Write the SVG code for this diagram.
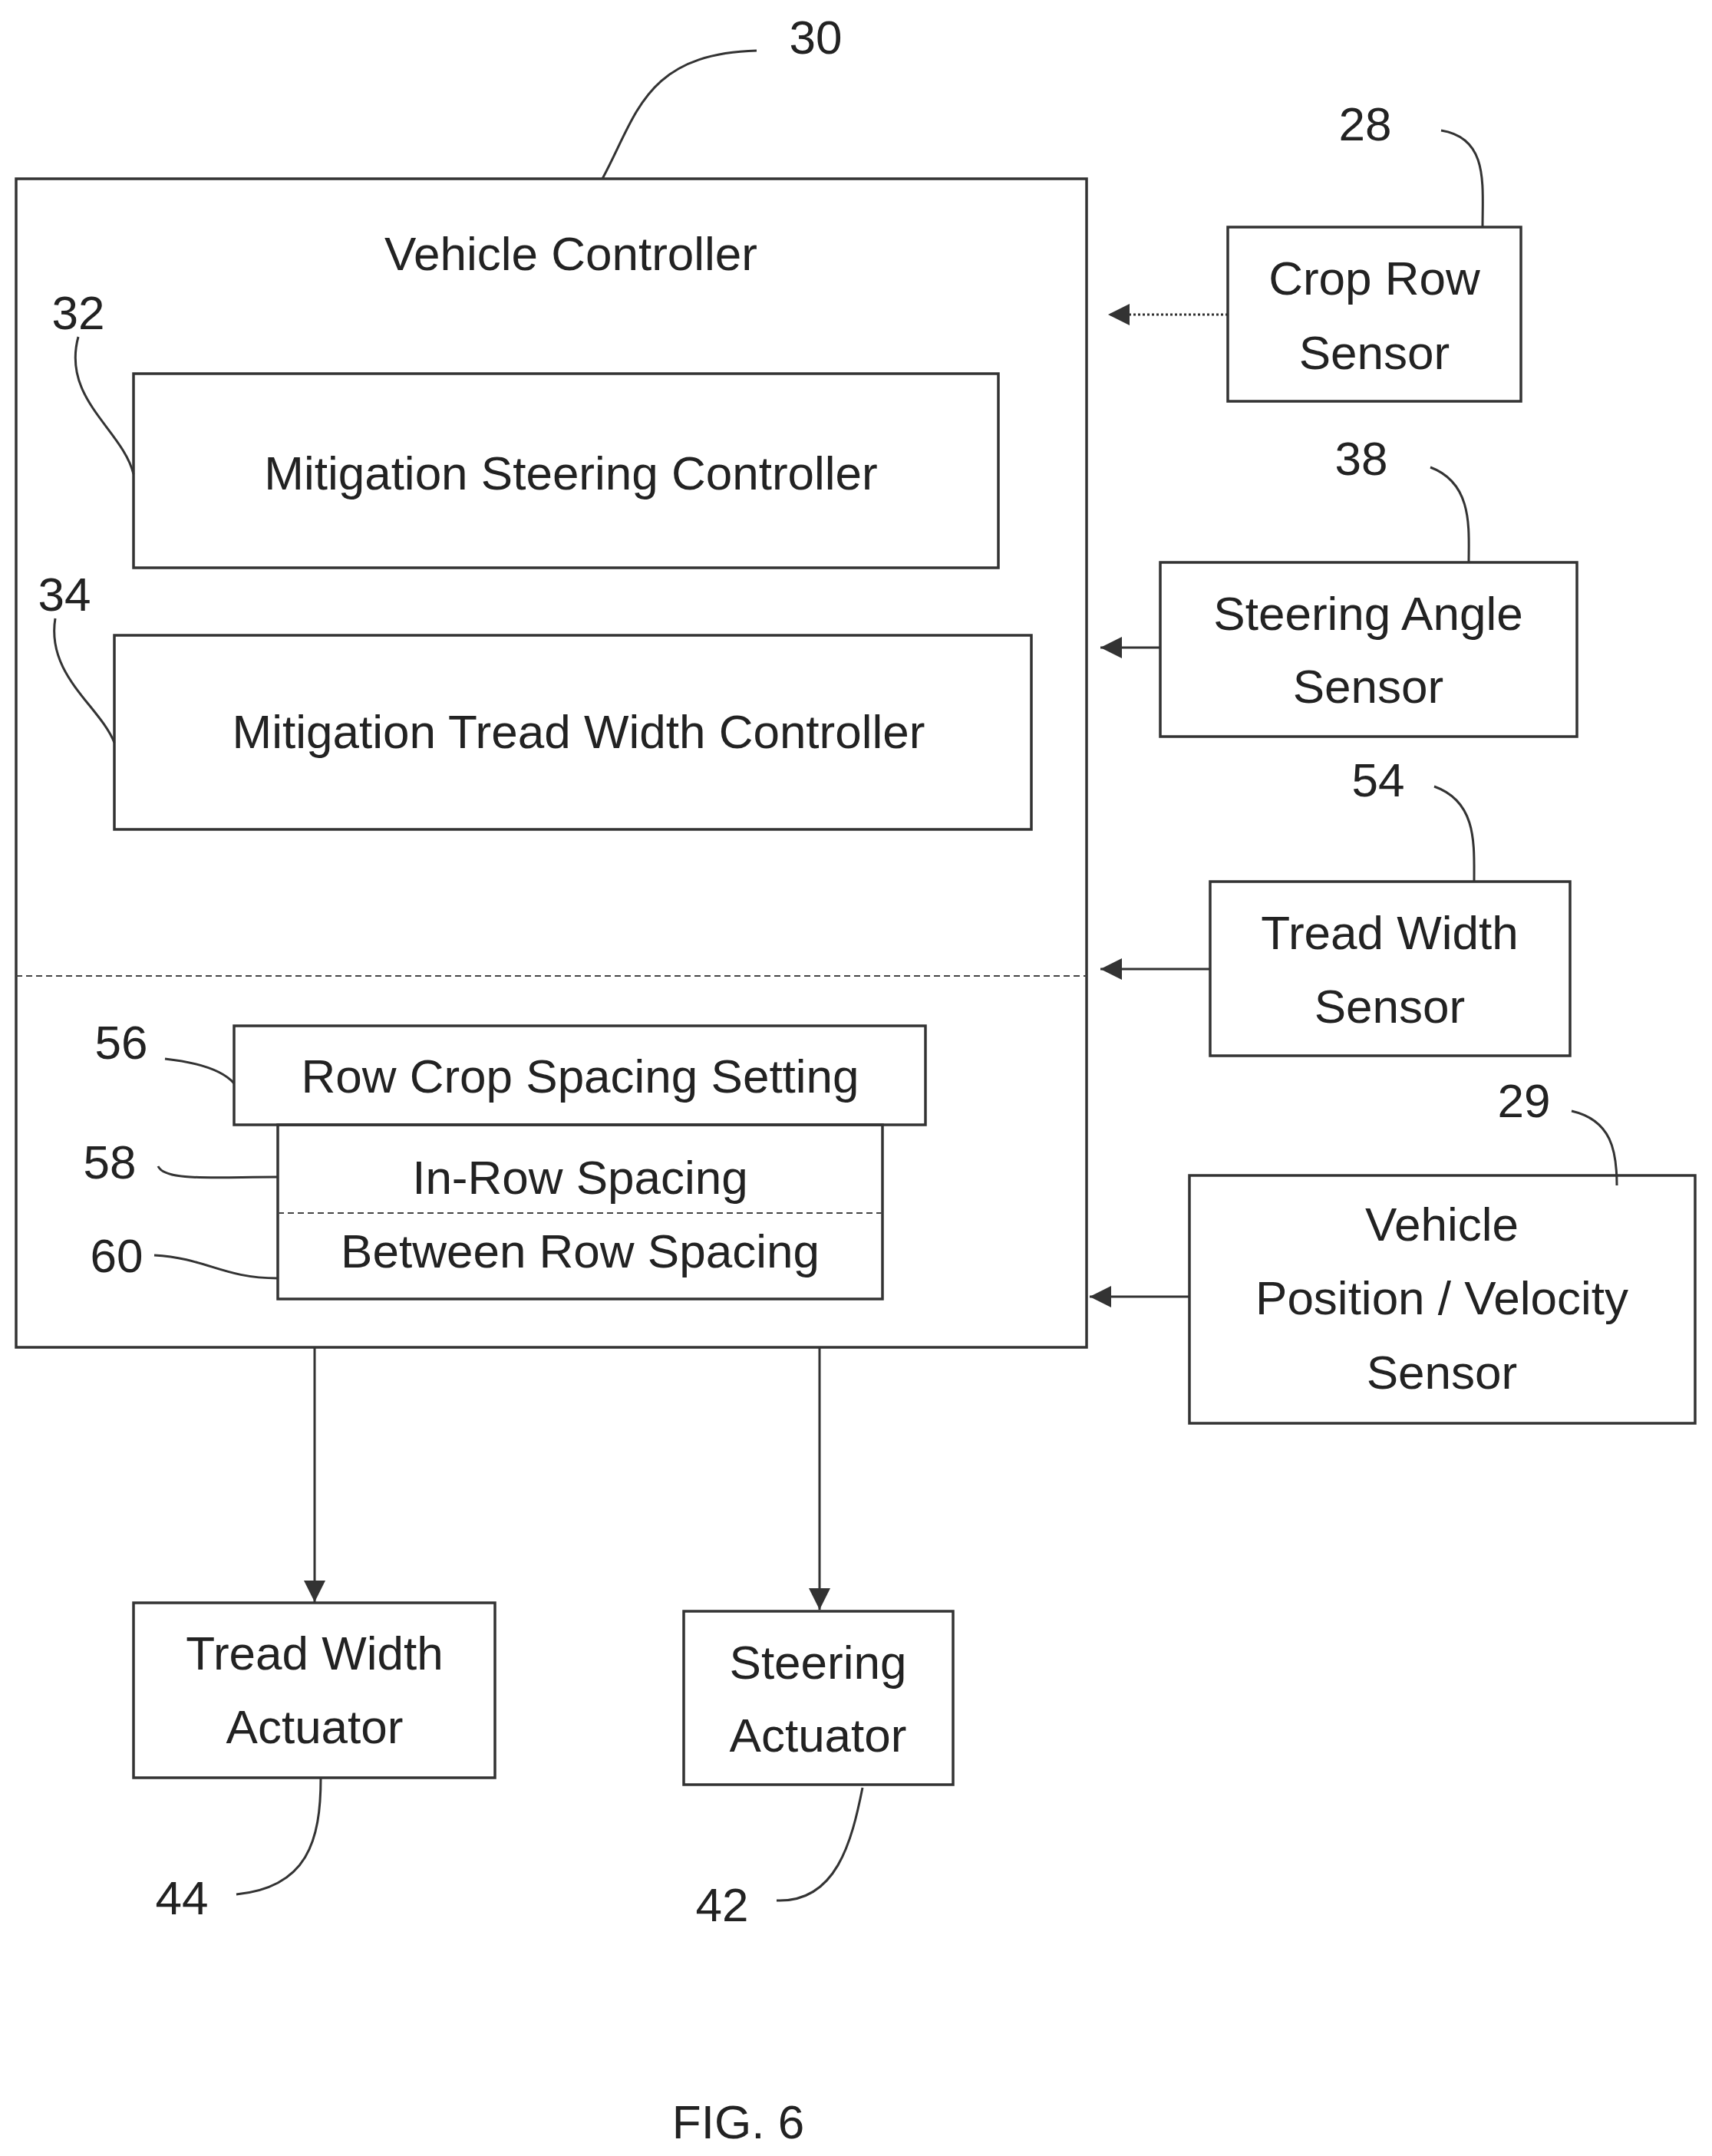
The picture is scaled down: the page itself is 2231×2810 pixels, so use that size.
<svg xmlns="http://www.w3.org/2000/svg" width="2231" height="2810" viewBox="0 0 2231 2810">
<style>
.b{fill:none;stroke:#333;stroke-width:3.5}
.t{font-family:"Liberation Sans",Arial,sans-serif;font-size:62px;fill:#222;text-anchor:middle}
.n{font-family:"Liberation Sans",Arial,sans-serif;font-size:62px;fill:#222;text-anchor:middle}
.l{fill:none;stroke:#333;stroke-width:3}
.d{stroke:#444;stroke-width:2;stroke-dasharray:8 5}
</style>
<defs>
<marker id="ah" viewBox="0 0 10 10" refX="10" refY="5" markerWidth="10" markerHeight="10" markerUnits="userSpaceOnUse" orient="auto">
<path d="M0,0 L10,5 L0,10 z" fill="#333"/></marker>
<marker id="ah2" viewBox="0 0 10 10" refX="10" refY="5" markerWidth="28" markerHeight="28" markerUnits="userSpaceOnUse" orient="auto">
<path d="M0,0 L10,5 L0,10 z" fill="#333"/></marker>
</defs>
<rect width="2231" height="2810" fill="#fff"/>
<g id="vehicle-controller">
<rect class="b" x="21" y="233" width="1395" height="1523"/>
<text class="t" x="744" y="352">Vehicle  Controller</text>
<line class="d" x1="21" y1="1272" x2="1416" y2="1272"/>
</g>
<g id="n32"><rect class="b" x="174" y="487" width="1127" height="253"/><text class="t" x="744" y="638">Mitigation Steering Controller</text></g>
<g id="n34"><rect class="b" x="149" y="828" width="1195" height="253"/><text class="t" x="754" y="975">Mitigation Tread Width Controller</text></g>
<g id="n56"><rect class="b" x="305" y="1337" width="901" height="129"/><text class="t" x="756" y="1424">Row Crop Spacing Setting</text></g>
<g id="n58"><rect class="b" x="362" y="1466" width="788" height="227"/><line class="d" x1="362" y1="1581" x2="1150" y2="1581"/>
<text class="t" x="756" y="1556">In-Row Spacing</text><text class="t" x="756" y="1652">Between Row Spacing</text></g>
<g id="n28"><rect class="b" x="1600" y="296" width="382" height="227"/><text class="t" x="1791" y="384">Crop Row</text><text class="t" x="1791" y="481">Sensor</text></g>
<g id="n38"><rect class="b" x="1512" y="733" width="543" height="227"/><text class="t" x="1783" y="821">Steering Angle</text><text class="t" x="1783" y="916">Sensor</text></g>
<g id="n54"><rect class="b" x="1577" y="1149" width="469" height="227"/><text class="t" x="1811" y="1237">Tread Width</text><text class="t" x="1811" y="1333">Sensor</text></g>
<g id="n29"><rect class="b" x="1550" y="1532" width="659" height="323"/><text class="t" x="1879" y="1617">Vehicle</text><text class="t" x="1879" y="1713">Position / Velocity</text><text class="t" x="1879" y="1810">Sensor</text></g>
<g id="n44"><rect class="b" x="174" y="2089" width="471" height="228"/><text class="t" x="410" y="2176">Tread Width</text><text class="t" x="410" y="2272">Actuator</text></g>
<g id="n42"><rect class="b" x="891" y="2100" width="351" height="226"/><text class="t" x="1066" y="2188">Steering</text><text class="t" x="1066" y="2283">Actuator</text></g>
<g id="connectors">
<line class="l" x1="1600" y1="410" x2="1444" y2="410" stroke-dasharray="3 3" marker-end="url(#ah2)"/>
<line class="l" x1="1512" y1="844" x2="1434" y2="844" marker-end="url(#ah2)"/>
<line class="l" x1="1577" y1="1263" x2="1434" y2="1263" marker-end="url(#ah2)"/>
<line class="l" x1="1550" y1="1690" x2="1420" y2="1690" marker-end="url(#ah2)"/>
<line class="l" x1="410" y1="1756" x2="410" y2="2088" marker-end="url(#ah2)"/>
<line class="l" x1="1068" y1="1756" x2="1068" y2="2098" marker-end="url(#ah2)"/>
</g>
<g id="labels">
<text class="n" x="1063" y="70">30</text><path class="l" d="M785,233 C830,150 840,70 986,66"/>
<text class="n" x="1779" y="183">28</text><path class="l" d="M1878,170 C1940,180 1932,240 1932,296"/>
<text class="n" x="1774" y="619">38</text><path class="l" d="M1864,609 C1920,630 1914,690 1914,733"/>
<text class="n" x="1796" y="1038">54</text><path class="l" d="M1869,1025 C1925,1045 1921,1100 1921,1149"/>
<text class="n" x="1986" y="1456">29</text><path class="l" d="M2048,1448 C2100,1460 2107,1500 2107,1545"/>
<text class="n" x="102" y="429">32</text><path class="l" d="M102,439 C80,520 160,560 174,618"/>
<text class="n" x="84" y="796">34</text><path class="l" d="M72,806 C60,880 130,920 149,968"/>
<text class="n" x="158" y="1380">56</text><path class="l" d="M215,1380 C260,1385 290,1395 305,1412"/>
<text class="n" x="143" y="1536">58</text><path class="l" d="M206,1520 C215,1540 280,1534 362,1534"/>
<text class="n" x="152" y="1658">60</text><path class="l" d="M201,1636 C270,1640 290,1666 362,1666"/>
<text class="n" x="237" y="2495">44</text><path class="l" d="M308,2469 C400,2460 418,2400 418,2317"/>
<text class="n" x="941" y="2504">42</text><path class="l" d="M1012,2477 C1090,2480 1110,2400 1124,2330"/>
<text class="n" x="962" y="2787">FIG. 6</text>
</g>
</svg>
